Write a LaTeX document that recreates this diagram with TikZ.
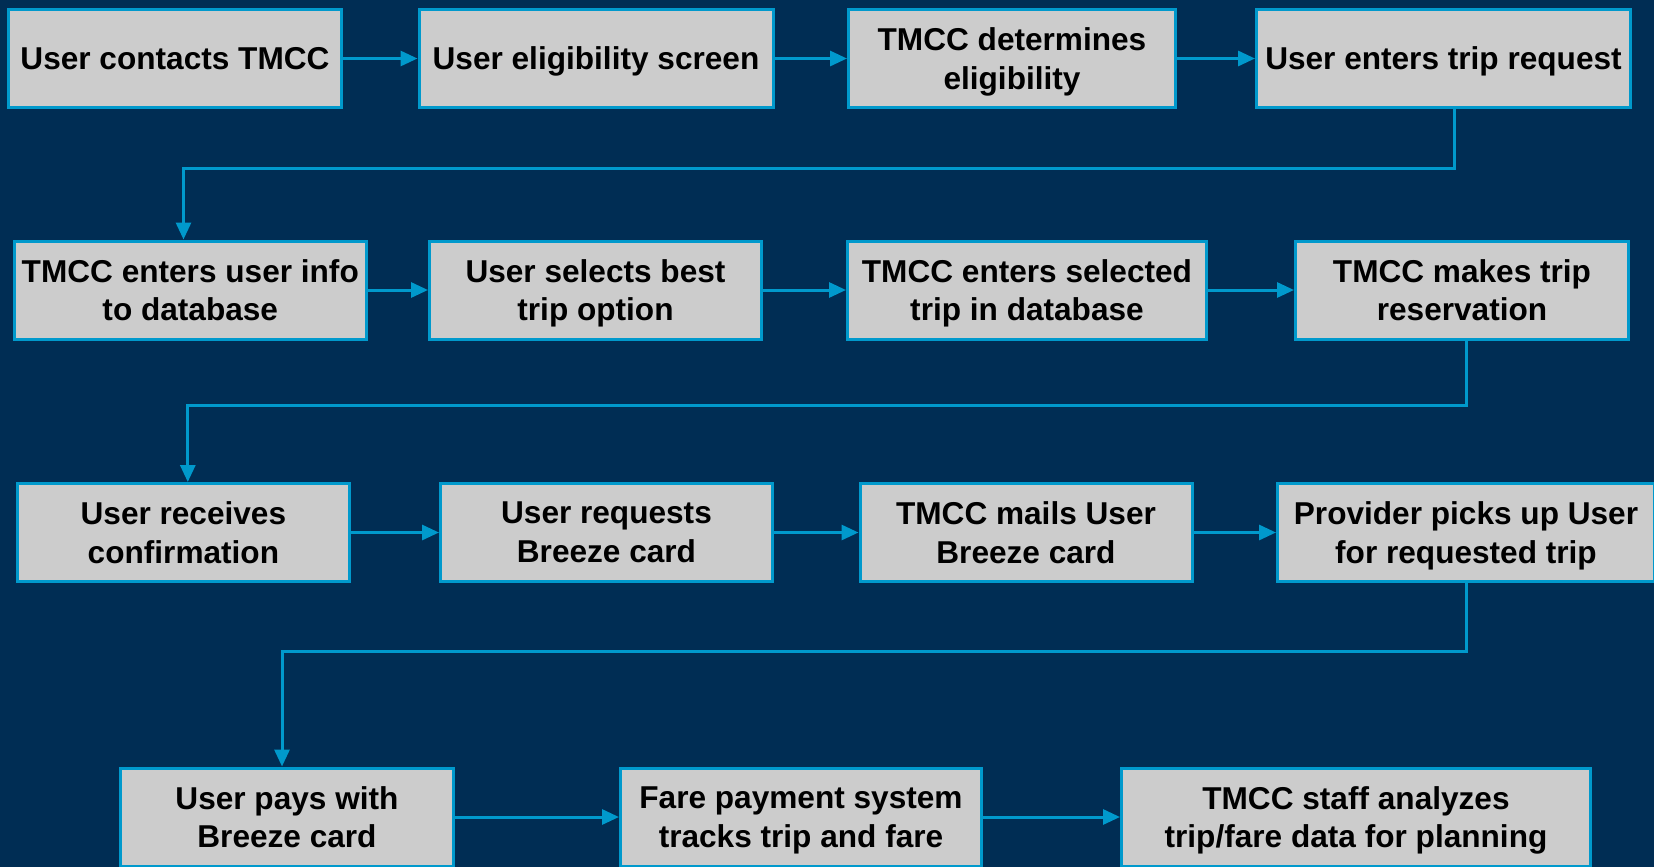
\documentclass[tikz,border=0pt]{standalone}
\usepackage{fontspec}
\setmainfont{Liberation Sans}
\usetikzlibrary{arrows.meta}

\definecolor{navybg}{RGB}{0,45,84}
\definecolor{flowblue}{RGB}{0,153,204}
\definecolor{boxgray}{RGB}{204,204,204}

\tikzset{
  stepbox/.style={draw=flowblue, fill=boxgray, line width=1.5pt, inner sep=0pt,
    minimum height=49pt, align=center, text depth=0pt,
    font=\fontsize{15.8}{19.4}\selectfont\bfseries},
  flow/.style={draw=flowblue, line width=1.5pt,
    -{Triangle[length=8.5pt,width=7.5pt]}},
}

\begin{document}
\begin{tikzpicture}[x=0.5pt,y=-0.5pt]
  % background
  \useasboundingbox (0,0) rectangle (1654,867);
  \fill[navybg] (0,0) rectangle (1654,867);

  %% row 1
  \node[stepbox, minimum width=166.5pt] (a1) at (175,58.5)   {User contacts TMCC};
  \node[stepbox, minimum width=177pt]   (a2) at (596,58.5)   {User eligibility screen};
  \node[stepbox, minimum width=163.5pt] (a3) at (1012,58.5)  {TMCC determines\\eligibility};
  \node[stepbox, minimum width=187pt]   (a4) at (1443.5,58.5) {User enters trip request};

  %% row 2
  \node[stepbox, minimum width=176pt]   (b1) at (190.3,290)  {TMCC enters user info\\to database};
  \node[stepbox, minimum width=166pt]   (b2) at (595.5,290)  {User selects best\\trip option};
  \node[stepbox, minimum width=179.5pt] (b3) at (1027,290)   {TMCC enters selected\\trip in database};
  \node[stepbox, minimum width=166.5pt] (b4) at (1462,290)   {TMCC makes trip\\reservation};

  %% row 3
  \node[stepbox, minimum width=166pt]   (c1) at (183.4,532.5) {User receives\\confirmation};
  \node[stepbox, minimum width=166pt]   (c2) at (606.5,532.5) {User requests\\Breeze card};
  \node[stepbox, minimum width=166pt]   (c3) at (1026,532.5)  {TMCC mails User\\Breeze card};
  \node[stepbox, minimum width=188.5pt] (c4) at (1466,532.5)  {Provider picks up User\\for requested trip};

  %% row 4
  \node[stepbox, minimum width=166.5pt] (d1) at (287,817)   {User pays with\\Breeze card};
  \node[stepbox, minimum width=180.5pt] (d2) at (801,817)   {Fare payment system\\tracks trip and fare};
  \node[stepbox, minimum width=234.5pt] (d3) at (1356,817)  {TMCC staff analyzes\\trip/fare data for planning};

  %% arrows along the rows
  \foreach \p/\q in {a1/a2,a2/a3,a3/a4,b1/b2,b2/b3,b3/b4,c1/c2,c2/c3,c3/c4,d1/d2,d2/d3}
    \draw[flow] (\p.east) -- (\q.west);

  %% arrows back to the next row
  \coordinate (j1) at (1454,168);   \coordinate (j2) at (183.5,168);
  \coordinate (k1) at (1466.7,405); \coordinate (k2) at (187.8,405);
  \coordinate (m1) at (1466.7,651); \coordinate (m2) at (282,651);
  \draw[flow] (a4.south -| j1) -- (j1) -- (j2) -- (b1.north -| j2);
  \draw[flow] (b4.south -| k1) -- (k1) -- (k2) -- (c1.north -| k2);
  \draw[flow] (c4.south -| m1) -- (m1) -- (m2) -- (d1.north -| m2);

\end{tikzpicture}
\end{document}
